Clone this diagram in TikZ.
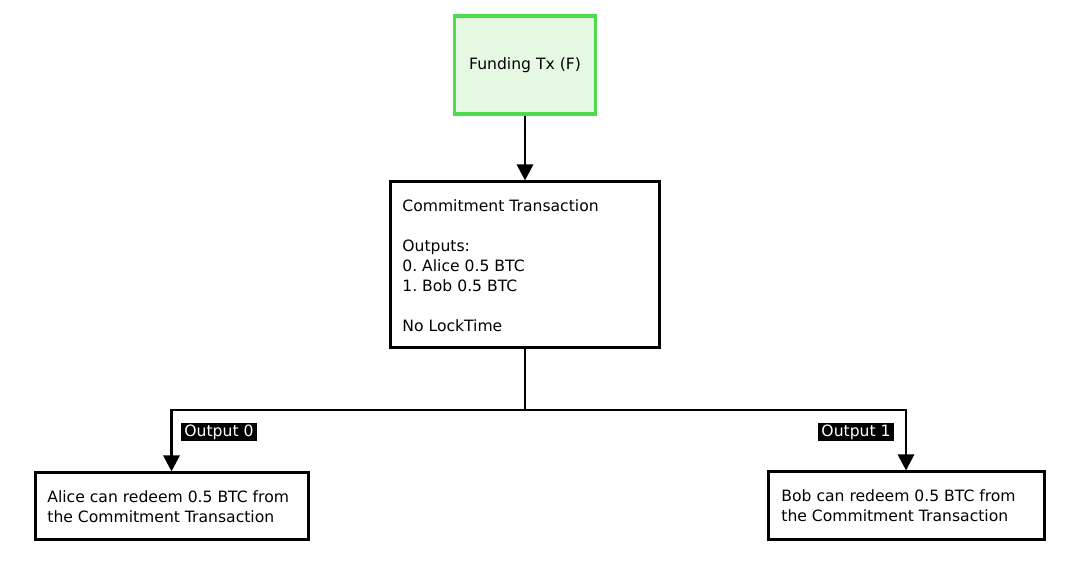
\documentclass[tikz,border=0pt]{standalone}
\usepackage{fontspec}
\setmainfont{DejaVu Sans}
\usetikzlibrary{arrows.meta}
\frenchspacing

\definecolor{fundfill}{HTML}{E4F8E2}
\definecolor{fundline}{HTML}{4EDC4E}

\tikzset{
    txbox/.style={draw=black, line width=1.5pt, inner sep=0pt},
    outlabel/.style={fill=black, text=white, inner xsep=1.5pt, inner ysep=1pt, font=\fontsize{7.8}{9}\selectfont},
    flow/.style={line width=1.4pt, -{Triangle[width=8pt,length=8pt]}}
}

\begin{document}
\begin{tikzpicture}[x=0.5pt,y=-0.5pt, font=\fontsize{7.8}{10}\selectfont]
                \useasboundingbox (0,0) rectangle (1080,565);

                % funding transaction
                \node[draw=fundline, fill=fundfill, line width=1.7pt, minimum width=70.5pt, minimum height=49pt] (fund) at (525,65) {Funding Tx (F)};

                % commitment transaction
                \node[txbox, minimum width=134.5pt, minimum height=83pt] (commit) at (525,265) {};
                \node[anchor=north west, align=left, inner sep=0pt] (committext) at (402,199) {Commitment Transaction\\[10pt]Outputs:\\0. Alice 0.5 BTC\\1. Bob 0.5 BTC\\[10pt]No LockTime};

                % redeem boxes
                \node[txbox, minimum width=136.5pt, minimum height=33.5pt] (alice) at (171.5,506.5) {};
                \node[anchor=west, align=left, inner sep=0pt] (alicetext) at (47,506.5) {Alice can redeem 0.5 BTC from\\the Commitment Transaction};

                \node[txbox, minimum width=138pt, minimum height=34pt] (bob) at (906,506) {};
                \node[anchor=west, align=left, inner sep=0pt] (bobtext) at (781,506) {Bob can redeem 0.5 BTC from\\the Commitment Transaction};

                \coordinate (split) at (525,410);

                \draw[flow] (fund.south) -- (commit.north);
                \draw[line width=1.4pt] (commit.south) -- (split);
                \draw[flow] (split) -| (alice.north);
                \draw[flow] (split) -| (bob.north);

                \node[outlabel] (out0) at (219,432) {Output 0};
                \node[outlabel] (out1) at (856,432) {Output 1};
            \end{tikzpicture}
\end{document}
